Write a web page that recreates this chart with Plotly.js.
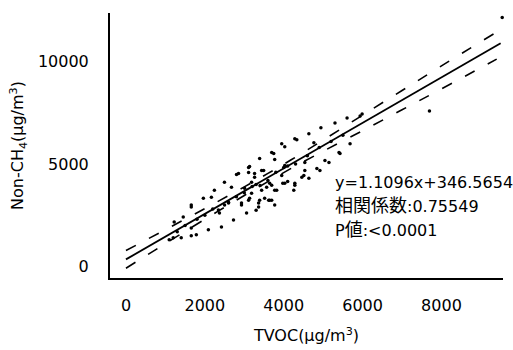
<!DOCTYPE html>
<html>
<head>
<meta charset="utf-8">
<script src="https://cdn.plot.ly/plotly-3.0.1.min.js"></script>
<style>html,body{margin:0;padding:0;background:#fff;}#chart{width:513px;height:350px;}</style>
</head>
<body>
<div id="chart"></div>
<script>
// Scatter points: TVOC (x) vs Non-CH4 (y), µg/m3
var tvoc = [1096,1198,1401,1656,1784,2089,2421,2726,3058,2930,3363,1656,1452,1223,1656,1962,2166,2242,2497,2803,
  2344,2370,2599,3109,3389,3746,3440,3134,4000,4026,3822,3644,3389,3134,3185,3185,3007,3261,2675,4255,
  4281,4459,4637,3771,4026,4332,4637,4943,5300,5606,5988,4026,4535,4765,5045,5147,5427,4918,4535,4100,
  3771,3567,3440,3618,3109,3300,3695,3491,4841,5402,4510,3949,3949,4281,3695,3516,3695,3261,5937,5682,
  7695,9540,1656,3644,2930,3771,3109,2854,2000,2200,2500,2800,3000,3200,3400,3600,3800,4100,4300,4600,
  4900,5200,5500,1500,1800,1300,2600,3300,3363,4281,3976];
var nonch4 = [1304,1401,1401,1498,1546,1787,1932,2271,2609,2995,2899,1884,2416,2174,2995,3333,3382,3720,4106,4493,
  2754,2609,3140,4831,5266,5507,4686,4879,4831,4058,3720,3237,3237,3333,3575,4106,3816,4348,3865,3720,
  4058,4348,4300,5218,5845,6184,6474,6763,7005,7247,7440,4928,5073,6039,5169,5073,5507,4686,4686,4150,
  3720,3865,3720,3237,3237,2750,5556,4686,4783,5556,4444,4444,5990,6232,3961,3333,3237,4541,7343,5990,
  7585,12150,2899,4058,3092,2995,4589,4541,2500,2800,3000,3400,3600,3900,3950,4200,4600,4900,5000,5400,
  5800,6100,6400,2000,2300,1700,3100,4000,3092,3961,4058];

// Regression line y = 1.1096x + 346.5654
var fitX = [0, 9500];
var fitY = [347, 10888];

// Confidence band
var bandX = [0, 1000, 2000, 3000, 3600, 4200, 5000, 6000, 7000, 8000, 9400];
var bandUpper = [777, 1796, 2826, 3885, 4541, 5217, 6165, 7384, 8584, 9784, 11437];
var bandLower = [-83, 1116, 2306, 3465, 4141, 4797, 5625, 6624, 7644, 8664, 10117];

var xTicks = [0, 2000, 4000, 6000, 8000];
var yTicks = [0, 5000, 10000];

var statLines = [
  'y=1.1096x+346.5654',
  '<span style="font-size:18px">相関係数</span>:0.75549',
  'P<span style="font-size:18px">値</span>:&lt;0.0001'
];

var FONT = 'DejaVu Sans, Noto Sans CJK JP, sans-serif';

var traces = [
  {x: tvoc, y: nonch4, type: 'scatter', mode: 'markers', cliponaxis: false,
   marker: {color: '#000', size: 3.5}, hoverinfo: 'skip'},
  {x: fitX, y: fitY, type: 'scatter', mode: 'lines',
   line: {color: '#000', width: 1.8}},
  {x: bandX, y: bandUpper, type: 'scatter', mode: 'lines', line: {shape: 'spline', color: '#000', width: 1.6, dash: '11px,15px'}},
  {x: bandX, y: bandLower, type: 'scatter', mode: 'lines', line: {shape: 'spline', color: '#000', width: 1.6, dash: '11px,15px'}}
];

var statY = [4122, 3000, 1829];
var annotations = statLines.map(function(t, i){
  return {x: 5241, y: statY[i], xref: 'x', yref: 'y', text: t, showarrow: false,
          xanchor: 'left', yanchor: 'middle', font: {family: FONT, size: 16, color: '#000'}};
});

var layout = {
  width: 513, height: 350,
  margin: {l: 110, r: 10, t: 13, b: 72},
  paper_bgcolor: '#fff', plot_bgcolor: '#fff',
  showlegend: false,
  font: {family: FONT, size: 16, color: '#000'},
  xaxis: {
    range: [-405, 9560], tickvals: xTicks, ticktext: xTicks.map(String),
    showgrid: false, zeroline: false, ticks: '', showline: true, linecolor: '#000', linewidth: 2,
    ticklabelstandoff: 12,
    title: {text: 'TVOC(μg/m<sup>3</sup>)', font: {family: FONT, size: 16}, standoff: 16}
  },
  yaxis: {
    range: [-561, 12366], tickvals: yTicks, ticktext: yTicks.map(String),
    showgrid: false, zeroline: false, ticks: '', showline: true, linecolor: '#000', linewidth: 2,
    ticklabelstandoff: 16,
    title: {text: 'Non-CH<sub>4</sub>(μg/m<sup>3</sup>)', font: {family: FONT, size: 16}, standoff: 10}
  },
  annotations: annotations
};

Plotly.newPlot('chart', traces, layout, {displayModeBar: false, staticPlot: true});
</script>
</body>
</html>
